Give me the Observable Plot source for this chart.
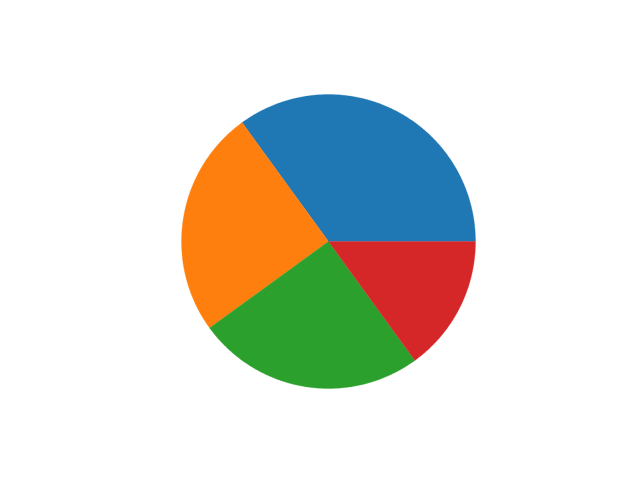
<!DOCTYPE html>
<html>
<head>
<meta charset="utf-8">
<script src="https://cdn.jsdelivr.net/npm/d3@7"></script>
<script src="https://cdn.jsdelivr.net/npm/@observablehq/plot@0.6"></script>
<style>
  html, body { margin: 0; padding: 0; background: #fff; }
</style>
</head>
<body>
<div id="chart"></div>
<script>
const labels = ["A", "B", "C", "D"];
const values = [35, 25, 25, 15];
const colors = ["#1f77b4", "#ff7f0e", "#2ca02c", "#d62728"];

// Build wedge outlines (start at 3 o'clock, counterclockwise, like matplotlib)
const total = d3.sum(values);
const ends = d3.cumsum(values).map(v => v / total * 2 * Math.PI);
const starts = [0, ...ends.slice(0, -1)];
const pts = [];
labels.forEach((lab, i) => {
  const a0 = starts[i], a1 = ends[i];
  const n = Math.max(2, Math.ceil((a1 - a0) / (Math.PI / 360)));
  pts.push({series: lab, x: 0, y: 0});
  for (let k = 0; k <= n; k++) {
    const a = a0 + (a1 - a0) * k / n;
    pts.push({series: lab, x: Math.cos(a), y: Math.sin(a)});
  }
  pts.push({series: lab, x: 0, y: 0});
});

const chart = Plot.plot({
  width: 640,
  height: 478,
  marginLeft: 181,
  marginRight: 165,
  marginTop: 94,
  marginBottom: 90,
  x: {domain: [-1, 1], axis: null},
  y: {domain: [-1, 1], axis: null},
  color: {domain: labels, range: colors},
  marks: [
    Plot.line(pts, {x: "x", y: "y", z: "series", fill: "series", stroke: "series", strokeWidth: 0.3, curve: "linear"})
  ]
});
document.getElementById("chart").appendChild(chart);
</script>
</body>
</html>
